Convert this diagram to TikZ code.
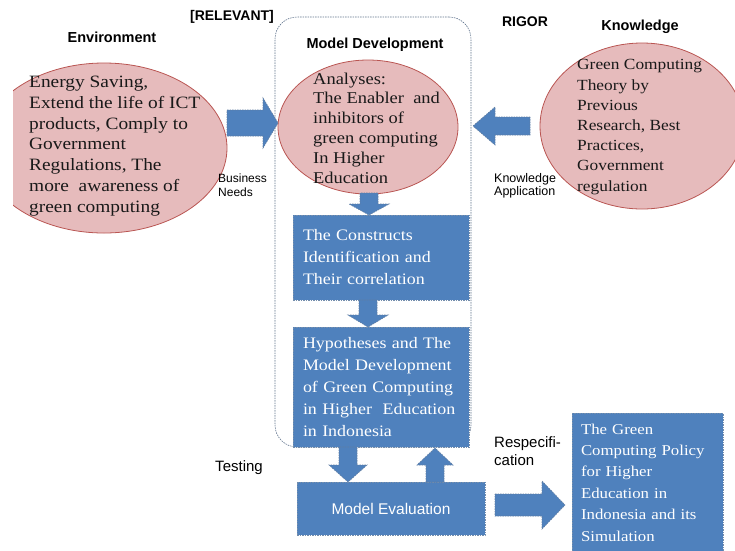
\documentclass[tikz,border=0pt]{standalone}
\usepackage{fontspec}
\setmainfont{Liberation Serif}
\newfontfamily\serifw{Liberation Serif}[FakeStretch=1.12]
\newfontfamily\arialf{Liberation Sans}
\usetikzlibrary{shapes.geometric}
\definecolor{boxblue}{RGB}{79,129,189}
\definecolor{boxedge}{RGB}{56,93,138}
\definecolor{pinkfill}{RGB}{230,187,188}
\definecolor{pinkedge}{RGB}{185,85,82}
\definecolor{contedge}{RGB}{95,115,140}
\tikzset{
  pinkell/.style={ellipse, fill=pinkfill, draw=pinkedge, line width=0.8pt, inner sep=0pt},
  bluebox/.style={rectangle, fill=boxblue, draw=boxedge!70!white, dash pattern=on 1.5pt off 1pt,
    line width=0.6pt, text=white, inner xsep=10pt, inner ysep=0pt, align=left},
  blockarrow/.style={fill=boxblue, draw=boxedge!80!white, line width=0.6pt, dash pattern=on 1.5pt off 1pt},
  heading/.style={font=\arialf\bfseries\fontsize{14.5}{17}\selectfont, inner sep=0pt},
  smalllab/.style={font=\arialf\fontsize{12}{14}\selectfont, align=left, inner sep=0pt, anchor=west},
  midlab/.style={font=\arialf\fontsize{15}{17.5}\selectfont, align=left, inner sep=0pt},
  elltext/.style={align=left, inner sep=0pt, anchor=west, text=black!90},
}
% horizontal block arrow: tail x, head-base x, tip x, centre y, shaft half, head half
\newcommand\hblockarrow[6]{%
  \draw[blockarrow] ({#1},{#4-#5}) -- ({#2},{#4-#5}) -- ({#2},{#4-#6}) -- ({#3},{#4})
    -- ({#2},{#4+#6}) -- ({#2},{#4+#5}) -- ({#1},{#4+#5}) -- cycle;}
% vertical block arrow: tail y, head-base y, tip y, centre x, shaft half, head half
\newcommand\vblockarrow[6]{%
  \draw[blockarrow] ({#4-#5},{#1}) -- ({#4-#5},{#2}) -- ({#4-#6},{#2}) -- ({#4},{#3})
    -- ({#4+#6},{#2}) -- ({#4+#5},{#2}) -- ({#4+#5},{#1}) -- cycle;}
\begin{document}
\begin{tikzpicture}[x=1pt,y=-1pt]
\useasboundingbox (0,0) rectangle (735,550);

% container
\node[draw=contedge, dash pattern=on 1.5pt off 1pt, line width=0.6pt, rounded corners=22pt,
  minimum width=196pt, minimum height=430pt, inner sep=0pt] (mdcontainer) at (373,232) {};

% headings
\node[heading] (envhead) at (112,37) {Environment};
\node[heading, font=\arialf\bfseries\fontsize{14}{17}\selectfont] (relevant) at (232,17) {[RELEVANT]};
\node[heading] (mdhead) at (375,45) {Model Development};
\node[heading, font=\arialf\bfseries\fontsize{14}{17}\selectfont] (rigor) at (525,22) {RIGOR};
\node[heading] (knowhead) at (640,27) {Knowledge};

% ellipses
\begin{scope}
  \clip (13,0) rectangle (735,550);
  \node[pinkell, minimum width=246pt, minimum height=170pt] (env) at (104,148) {};
\end{scope}
\node[pinkell, minimum width=180pt, minimum height=134pt] (analyses) at (368,127) {};
\node[pinkell, minimum width=204pt, minimum height=166pt] (knowledge) at (642,126) {};

\node[elltext, font=\serifw\fontsize{17.3}{20.8}\selectfont] (envtext) at (29,146)
  {Energy Saving,\\Extend the life of ICT\\products, Comply to\\Government\\Regulations, The\\more\ \ awareness of\\green computing};
\node[elltext, font=\serifw\fontsize{16.5}{19.8}\selectfont] (antext) at (313,128)
  {Analyses:\\The Enabler\ \ and\\inhibitors of\\green computing\\In Higher\\Education};
\node[elltext, font=\serifw\fontsize{15.5}{20.2}\selectfont] (knowtext) at (577,127)
  {Green Computing\\Theory by\\Previous\\Research, Best\\Practices,\\Government\\regulation};

% boxes
\node[bluebox, minimum width=176pt, minimum height=85pt, text width=156pt,
  font=\serifw\fontsize{16}{22}\selectfont] (constructs) at (381,257.5)
  {The Constructs\\Identification and\\Their correlation};
\node[bluebox, minimum width=176pt, minimum height=120pt, text width=156pt,
  font=\serifw\fontsize{16}{21.8}\selectfont] (hypo) at (381,387)
  {Hypotheses and The\\Model Development\\of Green Computing\\in Higher\ \ Education\\in Indonesia};
\node[bluebox, minimum width=188pt, minimum height=53pt, align=center,
  font=\arialf\fontsize{15.5}{18}\selectfont] (evaluation) at (391,508.5) {Model Evaluation};
\node[bluebox, minimum width=151pt, minimum height=139pt, text width=133pt, inner xsep=9pt,
  font=\serifw\fontsize{15}{21.4}\selectfont] (policy) at (647.5,482.5)
  {The Green\\Computing Policy\\for Higher\\Education in\\Indonesia and its\\Simulation};

% block arrows
\hblockarrow{227}{263}{278}{123}{13}{25}
\hblockarrow{530}{495}{473}{126}{9}{19}
\vblockarrow{193}{204}{215}{369}{9}{20}
\vblockarrow{300}{315}{327}{368}{9}{20}
\vblockarrow{447}{465}{482}{348}{9}{19}
\vblockarrow{482}{465}{448}{435}{9}{18}
\hblockarrow{495}{542}{565}{505}{11}{24}

% labels
\node[smalllab] (bizneeds) at (218,185) {Business\\Needs};
\node[smalllab, font=\arialf\fontsize{12.5}{13.5}\selectfont] (knowapp) at (494,186) {Knowledge\\Application};
\node[midlab] (testing) at (239,468) {Testing};
\node[midlab, anchor=west] (respec) at (494,451) {Respecifi-\\cation};
\end{tikzpicture}
\end{document}
